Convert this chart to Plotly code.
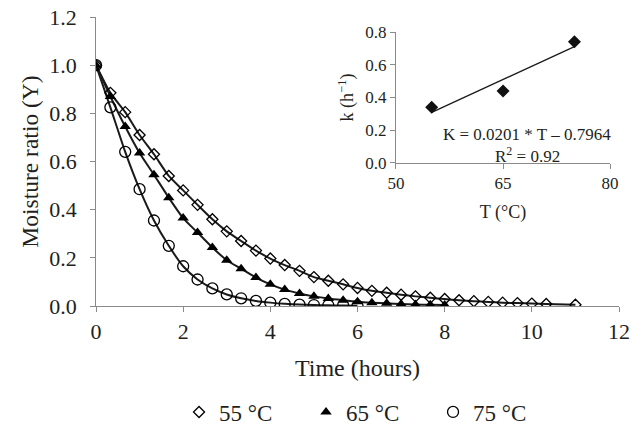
import plotly.graph_objects as go

# ---- Main chart data (time in hours, moisture ratio) ----
t55 = [0, 0.33, 0.67, 1.0, 1.33, 1.67, 2.0, 2.33, 2.67, 3.0, 3.33, 3.67, 4.0, 4.33, 4.67, 5.0,
       5.33, 5.67, 6.0, 6.33, 6.67, 7.0, 7.33, 7.67, 8.0, 8.33, 8.67, 9.0, 9.33, 9.67, 10.0, 10.33, 11.0]
y55 = [1.0, 0.885, 0.805, 0.71, 0.63, 0.54, 0.48, 0.42, 0.36, 0.31, 0.27, 0.23, 0.197, 0.17, 0.146, 0.12,
       0.105, 0.09, 0.075, 0.063, 0.055, 0.047, 0.04, 0.034, 0.029, 0.024, 0.02, 0.017, 0.014, 0.012, 0.01, 0.008, 0.005]

t65 = [0, 0.33, 0.67, 1.0, 1.33, 1.67, 2.0, 2.33, 2.67, 3.0, 3.33, 3.67, 4.0, 4.33, 4.67, 5.0,
       5.33, 5.67, 6.0, 6.33, 6.67, 7.0, 7.33, 7.67, 8.0]
y65 = [1.0, 0.87, 0.745, 0.635, 0.545, 0.45, 0.365, 0.305, 0.243, 0.19, 0.155, 0.118, 0.09, 0.068, 0.052, 0.04,
       0.031, 0.024, 0.018, 0.014, 0.011, 0.008, 0.006, 0.005, 0.004]

t75 = [0, 0.33, 0.67, 1.0, 1.33, 1.67, 2.0, 2.33, 2.67, 3.0, 3.33, 3.67, 4.0, 4.33, 4.67, 5.0,
       5.33, 5.67, 6.0]
y75 = [1.0, 0.825, 0.64, 0.485, 0.355, 0.25, 0.165, 0.11, 0.073, 0.048, 0.032, 0.021, 0.014, 0.009, 0.006, 0.004,
       0.003, 0.002, 0.001]

series_names = ["55 °C", "65 °C", "75 °C"]

# ---- Inset data ----
T_inset = [55, 65, 75]
k_inset = [0.34, 0.44, 0.74]
fit_T = [55, 75]
fit_k = [0.309, 0.711]

main_ticks = [0, 2, 4, 6, 8, 10, 12]
inset_ticks = [50, 65, 80]

FONT = "Liberation Serif"
TXT = "#231f20"
AX = "#8a8a8a"

fig = go.Figure()

symbols = [
    dict(symbol="diamond-open", size=8.5, color="black", line=dict(width=1.3, color="black")),
    dict(symbol="triangle-up", size=10, color="black", line=dict(width=0)),
    dict(symbol="circle-open", size=11, color="black", line=dict(width=1.3, color="black")),
]
data = [(t55, y55), (t65, y65), (t75, y75)]

for (t, y) in data:
    fig.add_trace(go.Scatter(x=t, y=y, mode="lines", line=dict(color="#1a1a1a", width=2, shape="spline", smoothing=0.6),
                             showlegend=False, hoverinfo="skip"))
for (t, y), name, mk in zip(data, series_names, symbols):
    fig.add_trace(go.Scatter(x=t, y=y, mode="markers", marker=mk, name=name, showlegend=True))

# inset
fig.add_trace(go.Scatter(x=fit_T, y=fit_k, mode="lines", line=dict(color="#1a1a1a", width=1.3),
                         xaxis="x2", yaxis="y2", showlegend=False))
fig.add_trace(go.Scatter(x=T_inset, y=k_inset, mode="markers",
                         marker=dict(symbol="diamond", size=10, color="#111111"),
                         xaxis="x2", yaxis="y2", showlegend=False))

axis_common = dict(showline=True, linecolor=AX, linewidth=1.2, ticks="outside", tickcolor=AX, ticklen=5,
                   tickwidth=1.2, showgrid=False, zeroline=False, automargin=False, ticklabeloverflow="allow")

# page body has an 8 px margin, so the figure is sized/offset to fit the 643x426 view
fig.update_layout(
    width=635, height=418,
    margin=dict(l=88, r=24, t=9, b=120),
    paper_bgcolor="white", plot_bgcolor="white",
    font=dict(family=FONT, size=22, color=TXT),
    xaxis=dict(range=[0, 12], tickvals=main_ticks, domain=[0, 1],
               title=dict(text="Time (hours)", standoff=16, font=dict(size=24)), **axis_common),
    yaxis=dict(range=[0, 1.2], dtick=0.2, tickformat=".1f", domain=[0, 1], ticksuffix="\u2009\u2009",
               title=dict(text="Moisture ratio (Y)", standoff=3, font=dict(size=23.5)), **axis_common),
    xaxis2=dict(range=[50, 80], tickvals=inset_ticks, domain=[0.5736, 0.983], anchor="y2",
                tickfont=dict(size=17), title=dict(text="T (°C)", standoff=12, font=dict(size=18)), **axis_common),
    yaxis2=dict(range=[0, 0.8], dtick=0.2, tickformat=".1f", domain=[0.495, 0.948], anchor="x2",
                tickfont=dict(size=17), title=dict(text="k (h<sup>−1</sup>)", standoff=6, font=dict(size=18)),
                **axis_common),
    legend=dict(orientation="h", x=0.523, xanchor="center", xref="paper",
                y=0.0335, yref="container", yanchor="middle",
                font=dict(size=23), entrywidth=82, bgcolor="rgba(0,0,0,0)"),
    annotations=[
        dict(text="K = 0.0201 * T – 0.7964", x=68.4, y=0.172, xref="x2", yref="y2", showarrow=False,
             font=dict(size=17)),
        dict(text="R<sup>2</sup> = 0.92", x=68.4, y=0.05, xref="x2", yref="y2", showarrow=False,
             font=dict(size=17)),
    ],
)

fig.write_html("out.html")
